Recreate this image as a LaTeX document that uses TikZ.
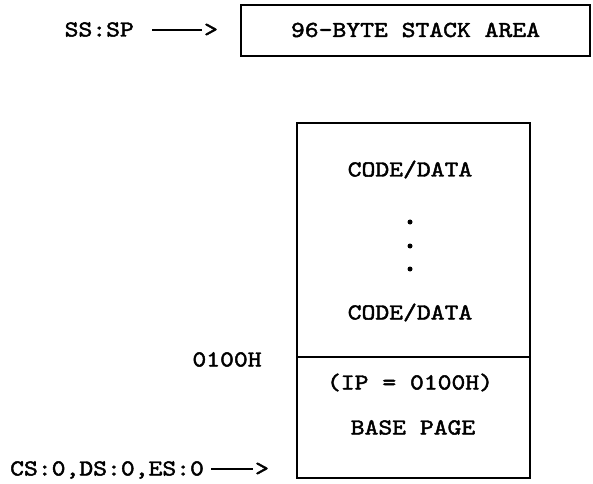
\documentclass[tikz,border=0pt]{standalone}
\usepackage{fontspec}
\newfontfamily\codefont{lmmono10-regular.otf}[FakeStretch=1.15, FakeBold=2]
\newcommand\memfont{\codefont\fontsize{23}{27}\selectfont}
\usetikzlibrary{positioning}

\begin{document}
\begin{tikzpicture}[x=1bp, y=-1bp,
  txt/.style={font=\memfont, inner sep=0pt, text height=13bp, text depth=0pt},
  mem/.style={draw, line width=1.5bp, inner sep=0pt, outer sep=0pt},
  ptr/.style={line width=1.3bp},
  dot/.style={circle, fill, inner sep=0pt, minimum size=5bp},
]
\useasboundingbox (0,0) rectangle (593,484);

%% ---- Stack segment ----

\node[mem, txt, minimum width=349bp, minimum height=51bp] (stack) at (415.5,30.5)
    {96-BYTE STACK AREA};

\node[txt, anchor=east] (ssp) at (134,30) {SS:SP};
\node[txt] (ssptip) at (211,30) {>};
\draw[ptr, shorten <=18bp, shorten >=2bp] (ssp) -- (ssptip);

%% ---- Code/data segment ----

\node[mem, minimum width=233bp, minimum height=234bp] (codearea) at (413.5,240) {};
\node[mem, minimum width=233bp, minimum height=121bp, below=0pt of codearea] (basepage) {};

\node[txt] (code1) at (410,170) {CODE/DATA};
\foreach \y [count=\i] in {222,246,269}
  \node[dot] (dot\i) at (410,\y) {};
\node[txt] (code2) at (410,313) {CODE/DATA};

\node[txt] (ipval) at (410,383) {(IP = 0100H)};
\node[txt] (baselbl) at (413,428) {BASE PAGE};

\node[txt] (offs) at (227,360) {0100H};

%% ---- Segment registers ----

\node[txt, anchor=west] (segs) at (10,469) {CS:0,DS:0,ES:0};
\node[txt] (segstip) at (262,469) {>};
\draw[ptr, shorten <=7bp, shorten >=2bp] (segs) -- (segstip);

\end{tikzpicture}
\end{document}
